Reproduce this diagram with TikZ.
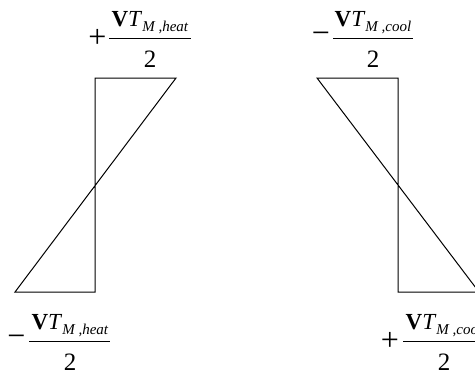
\documentclass[tikz,border=0pt]{standalone}
\usepackage{fontspec}
\setmainfont{Liberation Serif}
\usetikzlibrary{positioning}

\newcommand{\vtm}[1]{\textbf{V}\textit{T}\raisebox{-2.8pt}{\fontsize{7.5}{8}\selectfont\textit{M ,#1}}}

\begin{document}
\begin{tikzpicture}[x=0.5pt, y=-0.5pt,
    num/.style={anchor=base, inner sep=0pt, font=\fontsize{11.5}{13}\selectfont},
    den/.style={anchor=base, inner sep=0pt, font=\fontsize{12.5}{14}\selectfont},
    sgn/.style={inner sep=0pt, font=\fontsize{16}{18}\selectfont},
    bar/.style={line width=0.5pt}]
  \useasboundingbox (0,0) rectangle (475,371);

  % Ramps
  \draw[bar] (176,78) -- (95,78) -- (95,292) -- (15,292) -- cycle;
  \draw[bar] (317,78) -- (398,78) -- (398,292) -- (479,292) -- cycle;

  % Heat, top
  \draw[bar] (109,38) -- (191,38);
  \node[sgn] (heattopsign) at (97.5,38) {+};
  \node[num] (heattopnum) at (150,26) {\vtm{heat}};
  \node[den] (heattopden) at (150,67) {2};

  % Heat, bottom
  \draw[bar] (29,341) -- (110,341);
  \node[sgn] (heatbotsign) at (16.5,341) {−};
  \node[num] (heatbotnum) at (70,329) {\vtm{heat}};
  \node[den] (heatbotden) at (70,370) {2};

  % Cool, top
  \draw[bar] (333,38) -- (413,38);
  \node[sgn] (cooltopsign) at (321,38) {−};
  \node[num] (cooltopnum) at (373,26) {\vtm{cool}};
  \node[den] (cooltopden) at (373,67) {2};

  % Cool, bottom
  \draw[bar] (403,341) -- (485,341);
  \node[sgn] (coolbotsign) at (390,341) {+};
  \node[num] (coolbotnum) at (444,329) {\vtm{cool}};
  \node[den] (coolbotden) at (444,370) {2};
\end{tikzpicture}
\end{document}
